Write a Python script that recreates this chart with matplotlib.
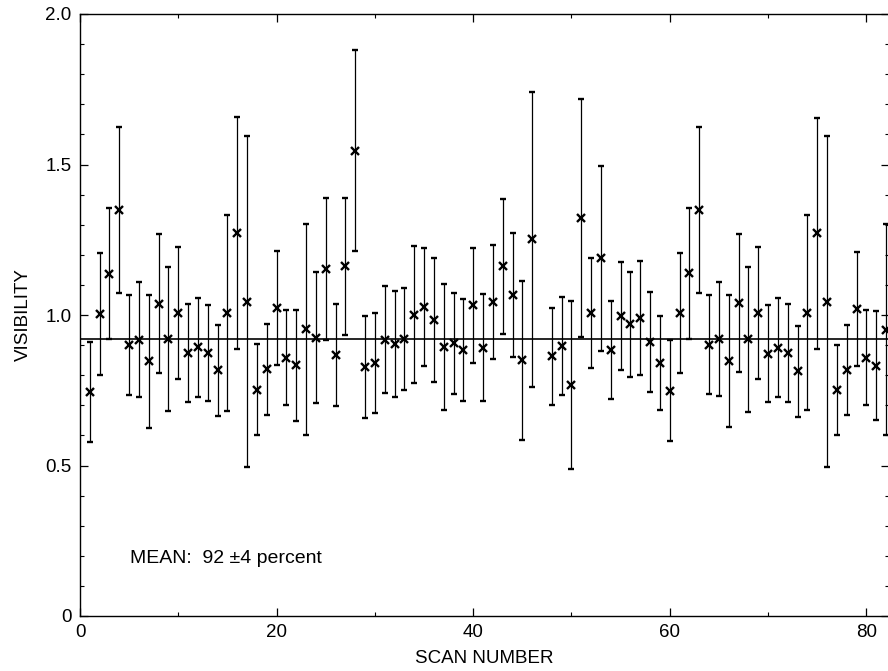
import matplotlib
matplotlib.use("Agg")
import matplotlib.pyplot as plt
from matplotlib.ticker import MultipleLocator, FixedLocator

plt.rcParams['font.family'] = ['Liberation Sans', 'DejaVu Sans']

scan = list(range(1, 47)) + list(range(48, 83))
visibility = [
    0.744, 1.004, 1.137, 1.348, 0.901, 0.918, 0.846, 1.038, 0.919, 1.006,
    0.873, 0.893, 0.874, 0.816, 1.007, 1.273, 1.044, 0.751, 0.819, 1.023,
    0.858, 0.833, 0.952, 0.924, 1.153, 0.868, 1.162, 1.546, 0.828, 0.841,
    0.918, 0.903, 0.920, 1.001, 1.026, 0.984, 0.893, 0.906, 0.883, 1.032,
    0.891, 1.044, 1.162, 1.066, 0.849, 1.251,
    0.863, 0.898, 0.768, 1.323, 1.007, 1.188, 0.884, 0.996, 0.969, 0.990,
    0.911, 0.841, 0.749, 1.006, 1.139, 1.349, 0.901, 0.920, 0.848, 1.039,
    0.919, 1.006, 0.872, 0.892, 0.873, 0.813, 1.008, 1.271, 1.044, 0.751,
    0.818, 1.020, 0.858, 0.832, 0.951,
]
error = [
    0.166, 0.202, 0.217, 0.275, 0.166, 0.190, 0.222, 0.232, 0.239, 0.220,
    0.162, 0.165, 0.160, 0.152, 0.325, 0.385, 0.550, 0.151, 0.151, 0.188,
    0.158, 0.185, 0.350, 0.218, 0.235, 0.170, 0.228, 0.333, 0.169, 0.167,
    0.177, 0.177, 0.170, 0.227, 0.197, 0.205, 0.210, 0.167, 0.170, 0.190,
    0.178, 0.190, 0.225, 0.205, 0.265, 0.490,
    0.161, 0.163, 0.280, 0.396, 0.184, 0.307, 0.162, 0.180, 0.175, 0.190,
    0.166, 0.157, 0.167, 0.200, 0.218, 0.275, 0.165, 0.190, 0.220, 0.230,
    0.240, 0.220, 0.162, 0.165, 0.162, 0.151, 0.325, 0.383, 0.550, 0.150,
    0.150, 0.188, 0.158, 0.182, 0.350,
]
mean_value = 0.92
mean_text = "MEAN:  92 \u00b14 percent"

fig = plt.figure(figsize=(8.88, 6.71), dpi=100)
ax = fig.add_axes([80/888, 1 - 616/671, 809/888, (616 - 14)/671])

ax.axhline(mean_value, color='black', lw=1.2, zorder=1)
ax.errorbar(scan, visibility, yerr=error, fmt='x', color='black',
            ms=6, mew=1.7, elinewidth=0.9, capsize=2.5, capthick=0.9, zorder=2)

ax.set_xlim(0, 82.3)
ax.set_ylim(0, 2.0)
ax.xaxis.set_major_locator(FixedLocator([0, 20, 40, 60, 80]))
ax.xaxis.set_minor_locator(MultipleLocator(10))
ax.yaxis.set_major_locator(FixedLocator([0, 0.5, 1.0, 1.5, 2.0]))
ax.yaxis.set_minor_locator(MultipleLocator(0.1))
ax.set_xticklabels(["0", "20", "40", "60", "80"])
ax.set_yticklabels(["0", "0.5", "1.0", "1.5", "2.0"])

ax.tick_params(which='both', direction='in', top=True, right=True, labelsize=13.5)
ax.tick_params(which='major', length=6, width=0.9)
ax.tick_params(which='minor', length=3, width=0.8)
ax.tick_params(axis='x', pad=6)
ax.tick_params(axis='y', pad=6)
for s in ax.spines.values():
    s.set_linewidth(1.0)

ax.set_xlabel("SCAN NUMBER", fontsize=13.5, labelpad=6)
ax.set_ylabel("VISIBILITY", fontsize=13.5, labelpad=10)

ax.text(5.1, 0.19, mean_text, fontsize=14, ha='left', va='center')

fig.savefig("out.png", dpi=100)
